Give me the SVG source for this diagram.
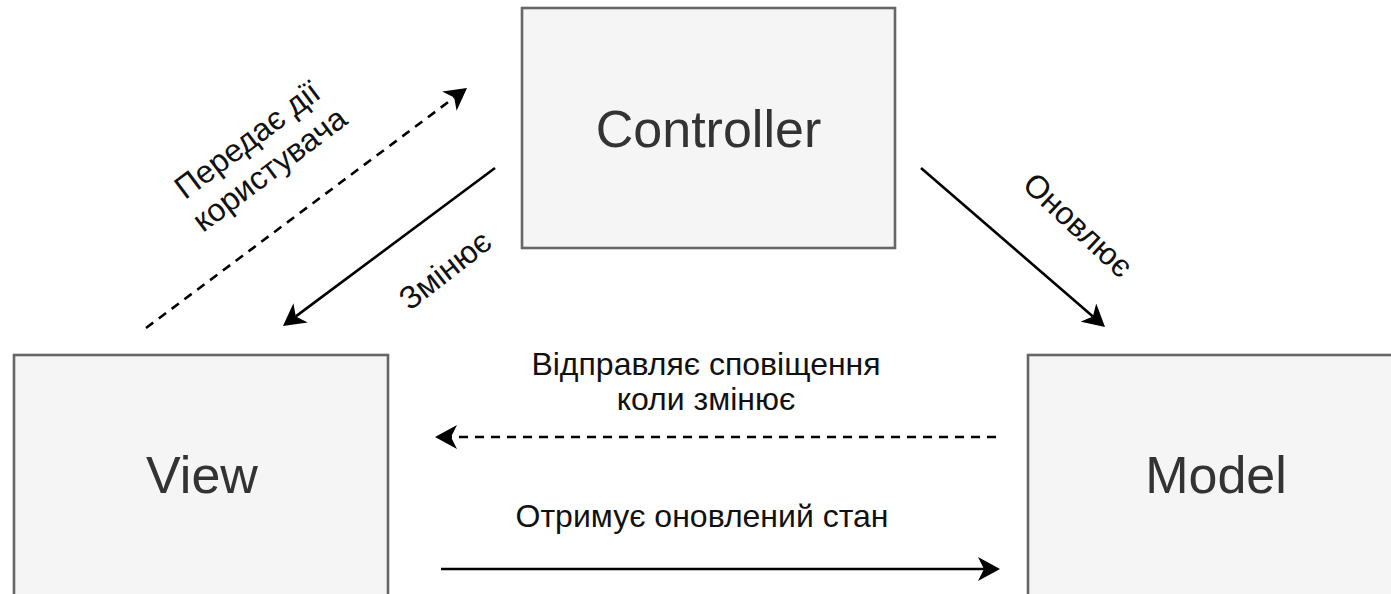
<svg xmlns="http://www.w3.org/2000/svg" width="1391" height="594" viewBox="0 0 1391 594">
  <style>
    .box { fill: #f5f5f5; stroke: #666666; stroke-width: 2.6; }
    .boxlabel { font-family: "Liberation Sans", Arial, sans-serif; font-size: 52px; fill: #333333; text-anchor: middle; }
    .edgelabel { font-family: "Liberation Sans", Arial, sans-serif; font-size: 32px; fill: #111111; text-anchor: middle; }
    .edge { fill: none; stroke: #000000; stroke-width: 2.6; }
    .dashed { stroke-dasharray: 9 7; }
  </style>
  <defs>
    <marker id="arrow" viewBox="0 0 22 24" markerWidth="22" markerHeight="24" refX="6" refY="12" orient="auto" markerUnits="userSpaceOnUse">
      <path d="M22,12 L0,0 L6,12 L0,24 Z" fill="#000000"/>
    </marker>
  </defs>
  <rect width="1391" height="594" fill="#ffffff"/>

  <g id="controller">
    <rect class="box" x="522" y="8" width="373" height="240"/>
    <text class="boxlabel" x="708.5" y="147">Controller</text>
  </g>
  <g id="view">
    <rect class="box" x="14" y="355" width="374" height="242"/>
    <text class="boxlabel" x="202" y="493">View</text>
  </g>
  <g id="model">
    <rect class="box" x="1028" y="355" width="374" height="242"/>
    <text class="boxlabel" x="1216" y="493">Model</text>
  </g>

  <g id="connectors">
    <line class="edge dashed" x1="146" y1="328" x2="454.2" y2="97.6" marker-end="url(#arrow)"/>
    <line class="edge" x1="495" y1="168" x2="295.8" y2="316.4" marker-end="url(#arrow)"/>
    <line class="edge" x1="921" y1="168" x2="1092.9" y2="316.5" marker-end="url(#arrow)"/>
    <line class="edge dashed" x1="996" y1="437" x2="451" y2="437" marker-end="url(#arrow)"/>
    <line class="edge" x1="441" y1="569" x2="984" y2="569" marker-end="url(#arrow)"/>

    <text class="edgelabel" transform="translate(258,154) rotate(-37)"><tspan x="0" y="-7">Передає дії</tspan><tspan x="0" y="30">користувача</tspan></text>
    <text class="edgelabel" transform="translate(445,270) rotate(-38)" x="0" y="11">Змінює</text>
    <text class="edgelabel" transform="translate(1078,225) rotate(43)" x="0" y="11">Оновлює</text>
    <text class="edgelabel"><tspan x="706" y="375">Відправляє сповіщення</tspan><tspan x="706" y="410">коли змінює</tspan></text>
    <text class="edgelabel" x="702" y="527">Отримує оновлений стан</text>
  </g>
</svg>
